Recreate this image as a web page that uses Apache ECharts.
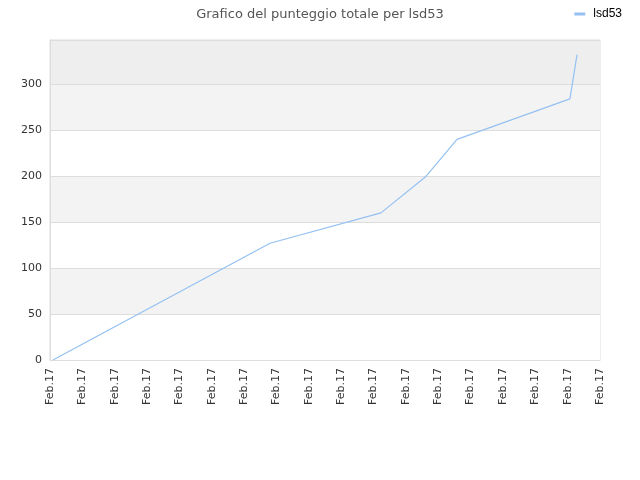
<!DOCTYPE html>
<html><head><meta charset="utf-8">
<script src="https://cdn.jsdelivr.net/npm/echarts@6/dist/echarts.min.js"></script>
<style>html,body{margin:0;padding:0;background:#fff}#c{width:640px;height:480px}</style>
</head><body><div id="c"></div>
<script>
var tickLabels = ['Feb.17','Feb.17','Feb.17','Feb.17','Feb.17','Feb.17','Feb.17','Feb.17','Feb.17','Feb.17','Feb.17','Feb.17','Feb.17','Feb.17','Feb.17','Feb.17','Feb.17','Feb.17'];
var xPositions = [0.09, 6.8, 10.23, 11.6, 12.58, 16.07, 16.29];
var scores = [0, 127, 160, 199, 240, 284, 332];
var seriesName = 'lsd53';

var chart = echarts.init(document.getElementById('c'));
chart.setOption({
  animation: false,
  title: { text: 'Grafico del punteggio totale per lsd53', left: 'center', top: 3,
    textStyle: { fontFamily: 'DejaVu Sans', fontSize: 13, fontWeight: 'normal', color: '#555' } },
  legend: { right: 13, top: 3, itemWidth: 11, itemHeight: 3, itemGap: 8, icon: 'rect',
    textStyle: { fontFamily: 'Liberation Sans', fontSize: 12, color: '#000', padding: [0, 0, 0, 3] },
    data: [seriesName] },
  grid: { left: 50, right: 40, top: 40, bottom: 120, show: true, borderColor: '#dddddd', borderWidth: 1 },
  xAxis: { type: 'value', min: 0, max: tickLabels.length - 1, interval: 1,
    axisLine: { lineStyle: { color: '#dddddd' } }, axisTick: { show: false }, splitLine: { show: false },
    axisLabel: { rotate: 90, fontFamily: 'DejaVu Sans', fontSize: 11, color: '#333', margin: 8,
      formatter: function (v) { return tickLabels[Math.round(v)] || ''; } } },
  yAxis: { type: 'value', min: 0, max: 348, interval: 50,
    axisLine: { show: true, lineStyle: { color: '#dddddd' } }, axisTick: { show: false },
    axisLabel: { fontFamily: 'DejaVu Sans', fontSize: 11, color: '#333', margin: 8,
      showMaxLabel: false },
    splitLine: { lineStyle: { color: '#dddddd' } },
    splitArea: { show: true, areaStyle: { color: ['#ffffff','#f3f3f3','#ffffff','#f3f3f3','#ffffff','#f3f3f3','#eeeeee'] } } },
  series: [{ name: seriesName, type: 'line', symbol: 'none',
    data: xPositions.map(function (x, i) { return [x, scores[i]]; }),
    lineStyle: { color: '#94c1f2', width: 1.2 }, itemStyle: { color: '#94c1f2' } }]
});
</script></body></html>
